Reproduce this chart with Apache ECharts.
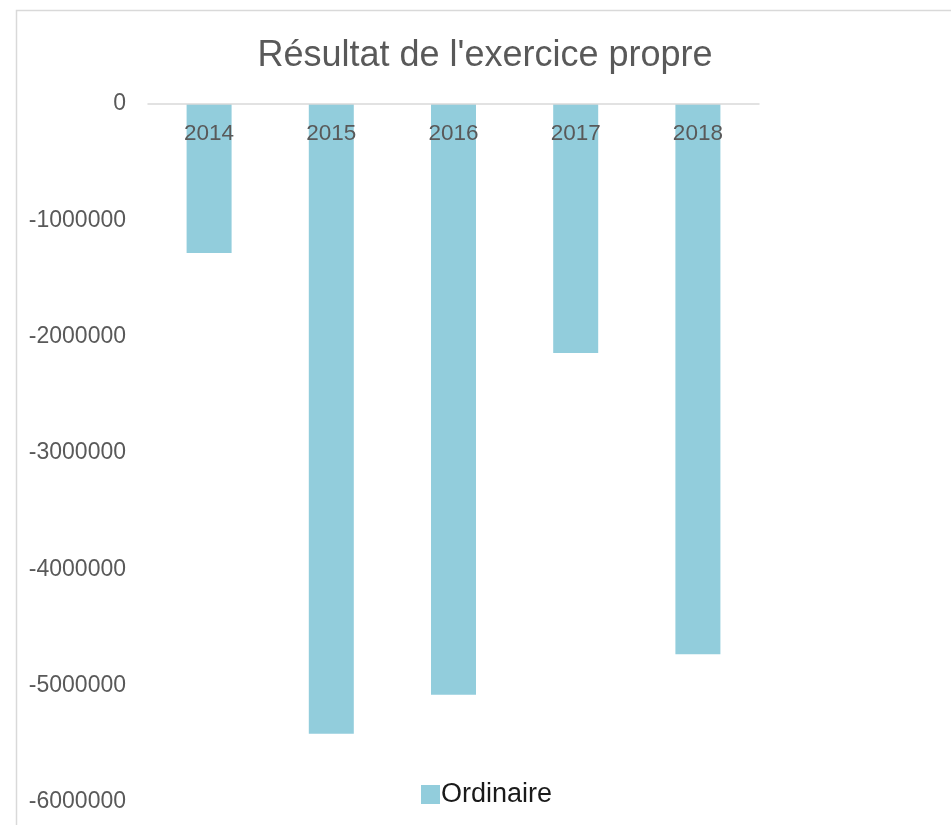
<!DOCTYPE html>
<html><head><meta charset="utf-8">
<script src="https://cdn.jsdelivr.net/npm/echarts@6/dist/echarts.min.js"></script>
<style>html,body{margin:0;padding:0;background:#fff}#c{width:951px;height:825px}</style>
</head><body><div id="c"></div>
<script>
const categories = ['2014','2015','2016','2017','2018'];
const ordinaire = [-1281000, -5414000, -5079000, -2141000, -4729000];
const seriesName = 'Ordinaire';
const titleText = "Résultat de l'exercice propre";

const chart = echarts.init(document.getElementById('c'));
chart.setOption({
  backgroundColor: '#fff',
  animation: false,
  graphic: [{type:'rect', shape:{x:16.5,y:10.5,width:1000,height:1000}, style:{fill:'none',stroke:'#d9d9d9',lineWidth:1.5}, silent:true}],
  title: {text: titleText, left: 480, top: 33, textAlign:'center',
    textStyle:{fontFamily:'Liberation Sans', fontSize:36, fontWeight:'normal', color:'#595959'}},
  legend: {top: 776, left: 416, itemWidth:19, itemHeight:19, itemGap:4, icon:'rect',
    textStyle:{fontFamily:'Liberation Sans', fontSize:27, color:'#1a1a1a', padding:[0,0,0,-4]}},
  grid: {left:148, right:192, top:104, bottom:23, containLabel:false, outerBoundsMode:'none'},
  xAxis: {type:'category', data:categories, position:'top', z:10,
    axisLine:{onZero:false, lineStyle:{color:'#d9d9d9', width:1.5}},
    axisTick:{show:false},
    axisLabel:{inside:true, margin:18, fontFamily:'Liberation Sans', fontSize:22.5, color:'#595959'}},
  yAxis: {type:'value', min:-6000000, max:0, interval:1000000,
    axisLine:{show:false}, axisTick:{show:false}, splitLine:{show:false},
    axisLabel:{margin:22, fontFamily:'Liberation Sans', fontSize:23, color:'#595959',
      formatter: v => String(v)}},
  series: [{name:seriesName, type:'bar', data:ordinaire, barWidth:45, z:2,
    itemStyle:{color:'#92cddc'}}]
});
</script></body></html>
